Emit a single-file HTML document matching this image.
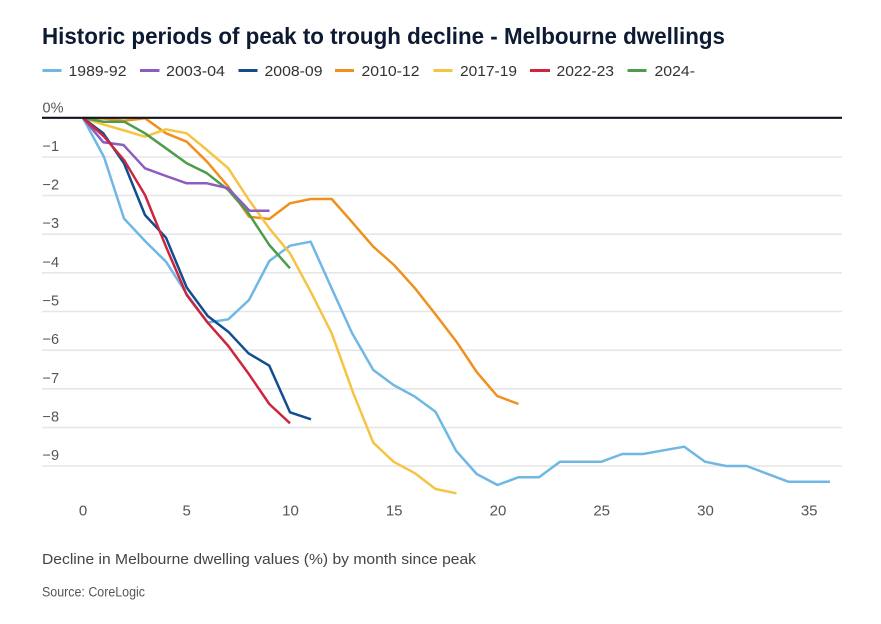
<!DOCTYPE html>
<html><head><meta charset="utf-8"><style>
html,body{margin:0;padding:0;background:#fff;}
svg{display:block;}
text{font-family:"Liberation Sans",sans-serif;}
</style></head><body>
<svg width="881" height="624" viewBox="0 0 881 624" xmlns="http://www.w3.org/2000/svg">
<rect width="881" height="624" fill="#fff"/>
<text x="42" y="44" font-size="23" font-weight="bold" fill="#0d1a33" textLength="683" lengthAdjust="spacingAndGlyphs">Historic periods of peak to trough decline - Melbourne dwellings</text>
<g font-size="15" fill="#333">
<line x1="42.5" y1="70.5" x2="61.5" y2="70.5" stroke="#6fb8e5" stroke-width="3"/><text x="68.5" y="76" textLength="58" lengthAdjust="spacingAndGlyphs">1989-92</text>
<line x1="140" y1="70.5" x2="159.5" y2="70.5" stroke="#8d5cc0" stroke-width="3"/><text x="166" y="76" textLength="59" lengthAdjust="spacingAndGlyphs">2003-04</text>
<line x1="238.5" y1="70.5" x2="257.5" y2="70.5" stroke="#124d90" stroke-width="3"/><text x="264.5" y="76" textLength="58" lengthAdjust="spacingAndGlyphs">2008-09</text>
<line x1="335" y1="70.5" x2="354" y2="70.5" stroke="#f0901d" stroke-width="3"/><text x="361.5" y="76" textLength="58" lengthAdjust="spacingAndGlyphs">2010-12</text>
<line x1="433.5" y1="70.5" x2="452.5" y2="70.5" stroke="#f5c443" stroke-width="3"/><text x="460" y="76" textLength="57" lengthAdjust="spacingAndGlyphs">2017-19</text>
<line x1="530" y1="70.5" x2="550" y2="70.5" stroke="#cc263d" stroke-width="3"/><text x="556.5" y="76" textLength="57.5" lengthAdjust="spacingAndGlyphs">2022-23</text>
<line x1="627.5" y1="70.5" x2="646.5" y2="70.5" stroke="#4f9c4a" stroke-width="3"/><text x="654.5" y="76" textLength="40.5" lengthAdjust="spacingAndGlyphs">2024-</text>
</g>
<g stroke="#e6e6e6" stroke-width="1.6">
<line x1="42" y1="157" x2="842" y2="157"/>
<line x1="42" y1="195.5" x2="842" y2="195.5"/>
<line x1="42" y1="234.2" x2="842" y2="234.2"/>
<line x1="42" y1="272.8" x2="842" y2="272.8"/>
<line x1="42" y1="311.5" x2="842" y2="311.5"/>
<line x1="42" y1="350.2" x2="842" y2="350.2"/>
<line x1="42" y1="388.8" x2="842" y2="388.8"/>
<line x1="42" y1="427.5" x2="842" y2="427.5"/>
<line x1="42" y1="466" x2="842" y2="466"/>
</g>
<g font-size="14.5" fill="#555">
<text x="42.5" y="112.3">0%</text>
<text x="42.5" y="151">−1</text>
<text x="42.5" y="189.6">−2</text>
<text x="42.5" y="228.2">−3</text>
<text x="42.5" y="266.8">−4</text>
<text x="42.5" y="305.5">−5</text>
<text x="42.5" y="344.2">−6</text>
<text x="42.5" y="382.8">−7</text>
<text x="42.5" y="421.5">−8</text>
<text x="42.5" y="460">−9</text>
</g>
<g font-size="15" fill="#555" text-anchor="middle">
<text x="83" y="515.7">0</text>
<text x="186.7" y="515.7">5</text>
<text x="290.5" y="515.7">10</text>
<text x="394.2" y="515.7">15</text>
<text x="498" y="515.7">20</text>
<text x="601.7" y="515.7">25</text>
<text x="705.5" y="515.7">30</text>
<text x="809.2" y="515.7">35</text>
</g>
<g fill="none" stroke-width="2.5" stroke-linejoin="round" stroke-linecap="butt">
<polyline stroke="#6fb8e5" points="83,118 104,157 124,218.5 145,241 166,261.7 186.7,294 207.7,322.5 228.3,319.3 249,300 269.3,261 290,245.7 310.7,241.7 331.5,288 352,333 373.3,370 393.5,385 415,396.7 435.5,411.7 456,450.7 476.7,474 497.5,485 518.3,477.3 539,477.3 560,461.7 580.7,461.7 601.5,461.7 622.3,454 643,454 663.7,450.3 684.3,446.7 705,461.7 726,466 746.7,466 767.3,473.8 788.3,481.7 809,481.7 830,481.7"/>
<polyline stroke="#f0901d" points="83,118 103.7,118.5 124.5,120.7 145,118.2 166,133.3 186.7,141.7 207,161.7 228.3,186.7 249,216.7 269.3,219 290,203.3 310.7,199 331.7,199 351.7,221.7 373.3,246.7 394,265 415,288.3 436,315 456.5,341.7 476.7,372 497.2,396 518.5,404"/>
<polyline stroke="#f5c443" points="83,118 103.5,124.5 124.3,130.5 145,136.7 166,129.3 186.7,133.3 207,150 228.3,168.3 249,200 269.3,228.3 290,253.3 310.7,291.7 331.7,333.3 353.3,393.3 373.3,442.7 393.5,461.7 415,473.3 435.5,489 456.5,493.3"/>
<polyline stroke="#4f9c4a" points="83,118 103.3,121.7 124.3,121.7 145,133.3 166,148.3 186.7,163.3 207,173.3 228.3,190 248.5,213.3 269.3,245 290,268.3"/>
<polyline stroke="#8d5cc0" points="83,118 103.3,142.3 123.5,145 145,168.3 166,176 186.7,183.3 207,183.3 228.3,188.3 249.5,210.7 269.5,210.7"/>
<polyline stroke="#124d90" points="83,118 103.3,133.3 124,163.3 145,215 166,237.7 186.7,287.5 207.7,316 228.3,331.7 248.5,353.3 269.3,365.7 290,412.3 311,419.3"/>
<polyline stroke="#cc263d" points="83,118 103.5,136 124,160 145,195 166,246.7 186.7,295 207.7,322.7 228.3,346 249,374.3 269.3,404 290,423.3"/>
</g>
<line x1="42" y1="117.8" x2="842" y2="117.8" stroke="#0f1424" stroke-width="2.2"/>
<text x="42" y="564" font-size="15" fill="#444" textLength="434" lengthAdjust="spacingAndGlyphs">Decline in Melbourne dwelling values (%) by month since peak</text>
<text x="42" y="596.7" font-size="13.5" fill="#555" textLength="103" lengthAdjust="spacingAndGlyphs">Source: CoreLogic</text>
</svg>
</body></html>
